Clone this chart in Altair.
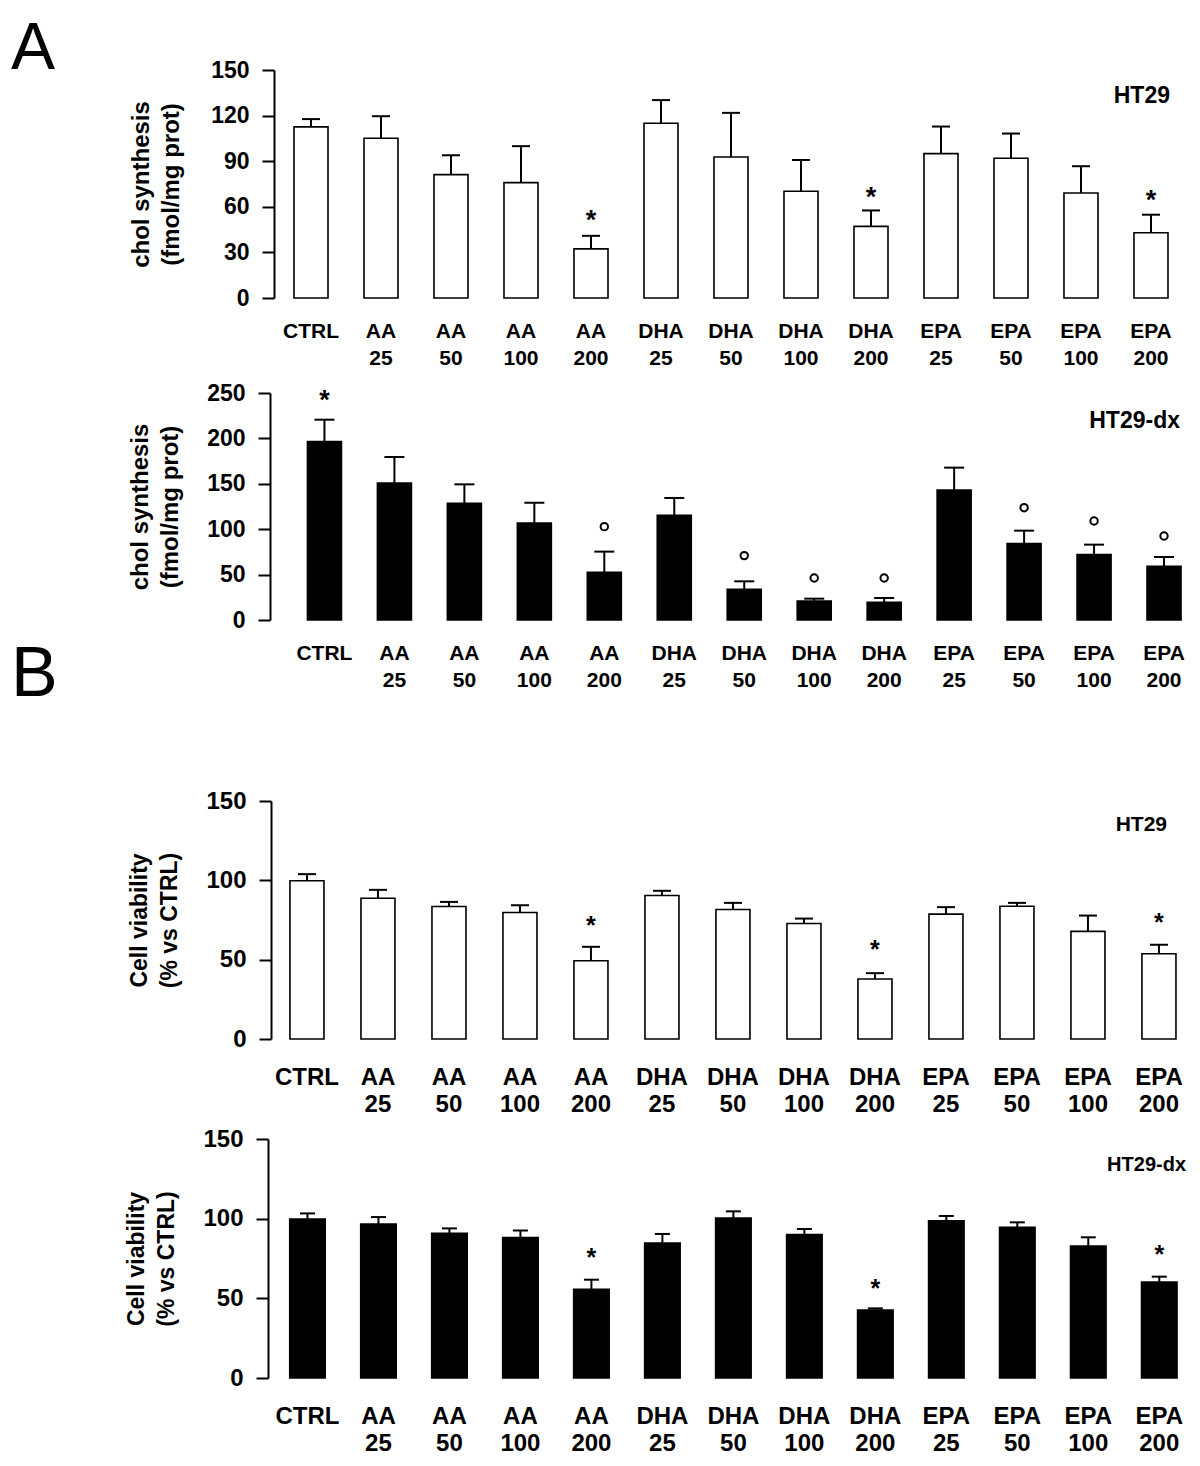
import altair as alt
import pandas as pd

FONT = "Liberation Sans"

categories = ["CTRL", "AA 25", "AA 50", "AA 100", "AA 200",
              "DHA 25", "DHA 50", "DHA 100", "DHA 200",
              "EPA 25", "EPA 50", "EPA 100", "EPA 200"]

# Panel A, HT29: cholesterol synthesis (fmol/mg prot)
a1_mean = [112.6, 105.1, 81.2, 75.9, 32.3, 115.0, 92.8, 70.2, 47.1, 95.0, 91.9, 69.1, 42.9]
a1_err = [5.1, 14.5, 12.7, 24.0, 8.6, 15.2, 29.0, 20.6, 10.5, 17.8, 16.3, 17.6, 11.9]
a1_star_cat = ["AA 200", "DHA 200", "EPA 200"]
a1_star_pos = [55.9, 70.8, 68.6]

# Panel A, HT29-dx
a2_mean = [196.4, 150.9, 128.5, 106.8, 52.5, 115.3, 33.8, 20.9, 19.5, 143.2, 84.1, 72.0, 59.1]
a2_err = [24.2, 28.6, 20.9, 22.4, 22.8, 19.1, 8.8, 2.6, 4.7, 24.6, 14.3, 11.0, 10.3]
a2_star_cat = ["CTRL"]
a2_star_pos = [250.0]
a2_circ_cat = ["AA 200", "DHA 50", "DHA 100", "DHA 200", "EPA 50", "EPA 100", "EPA 200"]
a2_circ_pos = [102.8, 70.9, 46.3, 46.3, 123.7, 109.0, 92.5]

# Panel B, HT29: cell viability (% vs CTRL)
b1_mean = [99.7, 88.7, 83.5, 79.7, 49.3, 90.4, 81.6, 72.8, 37.8, 78.7, 83.7, 67.8, 53.7]
b1_err = [4.2, 5.3, 2.9, 4.6, 8.8, 3.0, 4.2, 3.1, 3.7, 4.4, 2.1, 10.0, 5.7]
b1_star_cat = ["AA 200", "DHA 200", "EPA 200"]
b1_star_pos = [75.5, 60.2, 77.6]

# Panel B, HT29-dx
b2_mean = [99.8, 96.6, 90.8, 88.1, 55.6, 84.7, 100.4, 90.0, 42.7, 98.7, 94.6, 82.8, 60.2]
b2_err = [3.5, 4.4, 3.1, 4.4, 6.1, 5.7, 4.2, 3.5, 1.0, 3.0, 3.1, 5.5, 3.4]
b2_star_cat = ["AA 200", "DHA 200", "EPA 200"]
b2_star_pos = [79.5, 60.5, 81.4]


def panel(mean, err, ymax, ticks, fill, title, cell_label, label_x, label_y,
          label_size, width, height, p_inner, p_outer, p_align,
          tick_font, x_font, x_pad, axis_offset, cap, star_cat, star_pos,
          star_size, title_size, title_pad, circ_cat=None, circ_pos=None,
          letter=None):
    df = pd.DataFrame({
        "cat": categories,
        "mean": mean,
        "upper": [m + e for m, e in zip(mean, err)],
    })
    base = alt.Chart(df)
    xscale = alt.Scale(domain=categories, paddingInner=p_inner,
                       paddingOuter=p_outer, align=p_align)
    yscale = alt.Scale(domain=[0, ymax], nice=False, zero=True)
    xaxis = alt.Axis(
        title=None, domain=False, ticks=False, labelAngle=0,
        labelExpr="split(datum.value, ' ')", labelFont=FONT,
        labelFontSize=x_font, labelFontWeight="bold", labelColor="black",
        labelLineHeight=27, labelPadding=x_pad, labelOverlap=False,
        labelBaseline="top",
    )
    yaxis = alt.Axis(
        values=ticks, title=title, grid=False, domainColor="black",
        domainWidth=2, tickColor="black", tickWidth=2, tickSize=12,
        labelFont=FONT, labelFontSize=tick_font, labelFontWeight="bold",
        labelColor="black", labelPadding=13, titleFont=FONT,
        titleFontSize=title_size, titleFontWeight="bold", titleColor="black",
        titleLineHeight=30, titlePadding=title_pad, offset=axis_offset,
    )

    def X():
        return alt.X("cat:N", scale=xscale, axis=xaxis, sort=categories)

    def Y(field):
        return alt.Y(field, scale=yscale, axis=yaxis)

    bars = base.mark_bar(fill=fill, stroke="black", strokeWidth=1.6).encode(
        x=X(), y=Y("mean:Q"))
    rule = base.mark_rule(color="black", strokeWidth=2).encode(
        x=X(), y=Y("mean:Q"), y2="upper:Q")
    capm = base.mark_tick(color="black", thickness=2, size=cap, opacity=1).encode(
        x=X(), y=Y("upper:Q"))
    sdf = pd.DataFrame({"cat": star_cat, "pos": star_pos, "t": ["*"] * len(star_cat)})
    stars = alt.Chart(sdf).mark_text(
        font=FONT, fontSize=star_size, fontWeight="bold", color="black",
        baseline="middle", dy=star_size * 0.28).encode(
        x=X(), y=Y("pos:Q"), text="t:N")
    layers = [bars, rule, capm, stars]
    if circ_cat:
        cdf = pd.DataFrame({"cat": circ_cat, "pos": circ_pos})
        circ = alt.Chart(cdf).mark_point(
            shape="circle", filled=False, color="black", size=55,
            strokeWidth=2, opacity=1).encode(
            x=X(), y=Y("pos:Q"))
        layers.append(circ)
    ldf = pd.DataFrame({"t": [cell_label]})
    lab = alt.Chart(ldf).mark_text(
        font=FONT, fontSize=label_size, fontWeight="bold", color="black",
        align="right", baseline="middle").encode(
        x=alt.value(label_x), y=alt.value(label_y), text="t:N")
    layers.append(lab)
    if letter:
        pdf = pd.DataFrame({"t": [letter]})
        let = alt.Chart(pdf).mark_text(
            font=FONT, fontSize=66, color="black", align="left",
            baseline="alphabetic").encode(
            x=alt.value(-260), y=alt.value(-1), text="t:N")
        layers.append(let)
    return alt.layer(*layers).properties(width=width, height=height)


def spacer(h, letter=None, ly=0):
    d = pd.DataFrame({"t": [letter if letter else ""]})
    return alt.Chart(d).mark_text(
        font=FONT, fontSize=70, color="black", align="left",
        baseline="alphabetic").encode(
        x=alt.value(-260), y=alt.value(ly), text="t:N"
    ).properties(width=1, height=h)


p1 = panel(a1_mean, a1_err, 150, [0, 30, 60, 90, 120, 150], "white",
           ["chol synthesis", "(fmol/mg prot)"], "HT29", 899, 26, 23,
           902, 228, 0.514, 0.2, 0.821, 23, 21, 22, -3, 18,
           a1_star_cat, a1_star_pos, 27, 24, 27, letter="A")
p2 = panel(a2_mean, a2_err, 250, [0, 50, 100, 150, 200, 250], "black",
           ["chol synthesis", "(fmol/mg prot)"], "HT29-dx", 909, 28, 23,
           915, 227, 0.514, 0.296, 0.88, 23, 21, 22, 1, 20,
           a2_star_cat, a2_star_pos, 27, 24, 24, a2_circ_cat, a2_circ_pos)
p3 = panel(b1_mean, b1_err, 150, [0, 50, 100, 150], "white",
           ["Cell viability", "(% vs CTRL)"], "HT29", 896, 24, 21,
           910, 238, 0.521, 0.169, 0.79, 24, 24, 26, 0, 18,
           b1_star_cat, b1_star_pos, 25, 23, 24)
p4 = panel(b2_mean, b2_err, 150, [0, 50, 100, 150], "black",
           ["Cell viability", "(% vs CTRL)"], "HT29-dx", 915, 26, 20,
           911, 239, 0.5, 0.167, 0.79, 24, 24, 26, 3, 15,
           b2_star_cat, b2_star_pos, 25, 23, 24)

chart = alt.vconcat(
    p1, spacer(95), p2, spacer(181, "B", 76), p3, spacer(100), p4,
    spacing=0, bounds="flush",
).properties(
    padding={"left": 2, "top": 7, "right": 0, "bottom": 0}
).configure_view(stroke="transparent")

chart.save("out.html", embed_options={"renderer": "svg", "actions": False})
